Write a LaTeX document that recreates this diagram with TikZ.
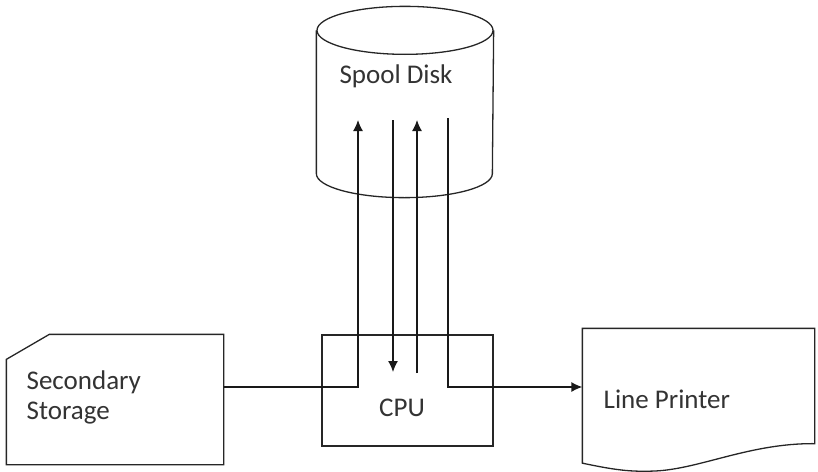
\documentclass[tikz,border=0pt]{standalone}
\usepackage{fontspec}
\setmainfont{Carlito}
\usetikzlibrary{arrows.meta}

\begin{document}
\begin{tikzpicture}[
  x=1pt, y=-1pt,
  >={Latex[length=11pt,width=10pt]},
  line width=1.3pt,
  every node/.style={inner sep=0pt, font=\fontsize{27}{30}\selectfont, text=black!80},
  outline/.style={draw=black!85, line width=1.3pt},
  link/.style={black!90, line width=1.3pt},
  ]
  \useasboundingbox (0,0) rectangle (818,471);

  % the three units
  \node[minimum width=176pt, minimum height=190pt] (disk) at (405,102) {};
  \draw[outline] ([yshift=-24pt]disk.north) ellipse [x radius=88pt, y radius=24pt];
  \draw[outline] ([yshift=-24pt]disk.north west) -- ([yshift=24pt]disk.south west)
    arc [start angle=180, end angle=360, x radius=88pt, y radius=24pt]
    -- ([yshift=-24pt]disk.north east);
  \node (disktext) at (396,76) {Spool Disk};

  \node[outline, minimum width=171pt, minimum height=111pt] (cpu) at (407.5,390.5) {};
  \node (cputext) at (402,408) {CPU};

  \node[minimum width=216pt, minimum height=129pt] (store) at (115,399.5) {};
  \draw[outline] ([yshift=-25pt]store.north west) -- ([xshift=43pt]store.north west)
    -- (store.north east) -- (store.south east) -- (store.south west) -- cycle;
  \node[align=left, anchor=west] (storetext) at (26,397) {Secondary\\Storage};

  \node[minimum width=231pt, minimum height=133pt] (printer) at (698.5,395.5) {};
  \draw[outline] (printer.south west) -- (printer.north west) -- (printer.north east)
    -- ([yshift=19pt]printer.south east)
    .. controls (750,443) and (700,469) .. (655,471)
    .. controls (630,472) and (615,470) .. ([yshift=-0.5pt]printer.south west) -- cycle;
  \node[anchor=base west] (printertext) at (603,408) {Line Printer};

  % points where the lines stop
  \coordinate (level) at (0,387);
  \coordinate (up1) at (358,120);
  \coordinate (down1) at (393,120);
  \coordinate (down1end) at (393,372);
  \coordinate (up2) at (417,373);
  \coordinate (up2end) at (417,120);
  \coordinate (down2) at (448,118);

  \draw[link,->] (store.east |- level) -| (up1);
  \draw[link,->] (down1) -- (down1end);
  \draw[link,->] (up2) -- (up2end);
  \draw[link,->] (down2) |- (printer.west |- level);

\end{tikzpicture}
\end{document}
